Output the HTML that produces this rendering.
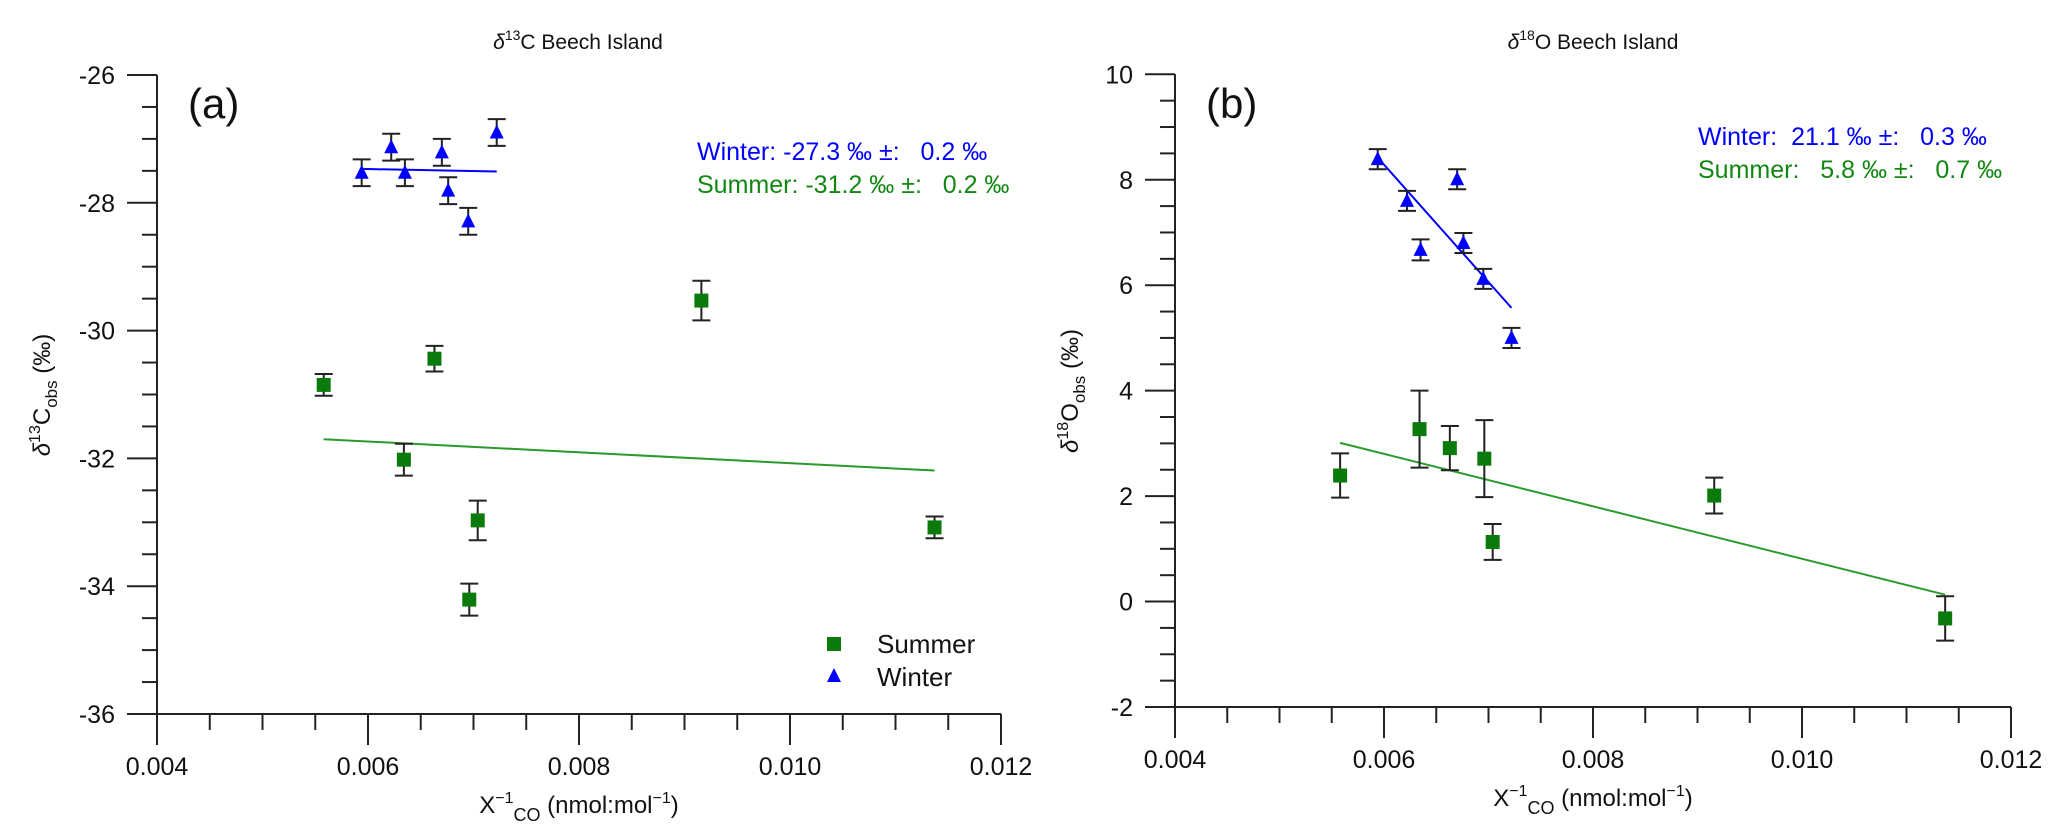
<!DOCTYPE html>
<html><head><meta charset="utf-8"><style>
html,body{margin:0;padding:0;background:#fff;}
svg{display:block;font-family:"Liberation Sans",Arial,sans-serif;}
</style></head><body>
<svg id="fig" width="2067" height="838" viewBox="0 0 2067 838" xmlns="http://www.w3.org/2000/svg">
<g id="pa"></g>
<g id="pb"></g>
</svg>
<script>
const winterX = [0.00594, 0.00622, 0.00635, 0.00670, 0.00676, 0.00695, 0.00722];
const winterC = [-27.53, -27.13, -27.53, -27.21, -27.81, -28.29, -26.90];
const winterCErr = [0.21, 0.21, 0.21, 0.21, 0.21, 0.21, 0.21];
const winterO = [8.39, 7.60, 6.67, 8.01, 6.80, 6.12, 5.00];
const winterOErr = [0.19, 0.19, 0.20, 0.19, 0.19, 0.19, 0.19];
const summerX = [0.00558, 0.00634, 0.00663, 0.00696, 0.00704, 0.00916, 0.01137];
const summerC = [-30.85, -32.02, -30.44, -34.21, -32.97, -29.53, -33.08];
const summerCErr = [0.17, 0.25, 0.20, 0.25, 0.31, 0.31, 0.17];
const summerO = [2.39, 3.27, 2.91, 2.71, 1.13, 2.01, -0.32];
const summerOErr = [0.42, 0.73, 0.42, 0.73, 0.34, 0.34, 0.42];
const fitWinterC = [-27.47, -27.51];
const fitSummerC = [-31.70, -32.19];
const fitWinterO = [8.42, 5.57];
const fitSummerO = [3.01, 0.13];
const xTicks = [0.004, 0.006, 0.008, 0.010, 0.012];
const xTickLabels = ["0.004", "0.006", "0.008", "0.010", "0.012"];
const yTicksC = [-26, -28, -30, -32, -34, -36];
const yTicksO = [10, 8, 6, 4, 2, 0, -2];

const NS = "http://www.w3.org/2000/svg";
function mk(parent, tag, attrs, text){
  const e = document.createElementNS(NS, tag);
  for (const k in attrs) e.setAttribute(k, attrs[k]);
  if (text !== undefined) e.textContent = text;
  parent.appendChild(e);
  return e;
}

function panel(g, cfg){
  const sx = v => cfg.x0 + (v - 0.004) / 0.008 * (cfg.x1 - cfg.x0);
  const sy = v => cfg.yTop + (cfg.yMax - v) / (cfg.yMax - cfg.yMin) * (cfg.yBot - cfg.yTop);
  // axes
  let a = mk(g, "line", {x1: cfg.x0, y1: cfg.yTop, x2: cfg.x0, y2: cfg.yBot, stroke: "#222", "stroke-width": 2});
  
  
  a = mk(g, "line", {x1: cfg.x0, y1: cfg.yBot, x2: cfg.x1, y2: cfg.yBot, stroke: "#222", "stroke-width": 2});
  
  
  // y ticks
  const step = cfg.yStep / 4;
  for (let v = cfg.yMin; v <= cfg.yMax + 1e-9; v += step) {
    const major = Math.abs(Math.round((v - cfg.yMin) / cfg.yStep) * cfg.yStep - (v - cfg.yMin)) < 1e-6;
    const t = mk(g, "line", {x1: cfg.x0 - (major ? 30 : 15), y1: sy(v), x2: cfg.x0, y2: sy(v), stroke: "#222", "stroke-width": 2});
    
    
  }
  cfg.yTicks.forEach(v => {
    const t = mk(g, "text", {x: cfg.x0 - 42, y: sy(v) + 9, "text-anchor": "end", "font-size": 25, fill: "#111"}, String(v));
    
    
  });
  // x ticks
  for (let i = 0; i <= 16; i++) {
    const v = 0.004 + i * 0.0005;
    const major = i % 4 === 0;
    const t = mk(g, "line", {x1: sx(v), y1: cfg.yBot, x2: sx(v), y2: cfg.yBot + (major ? 31 : 16), stroke: "#222", "stroke-width": 2});
    
    
  }
  xTicks.forEach((v, i) => {
    const t = mk(g, "text", {x: sx(v), y: cfg.yBot + 61, "text-anchor": "middle", "font-size": 25, fill: "#111"}, xTickLabels[i]);
    
    
  });
  // x title
  const xt = mk(g, "text", {x: (cfg.x0 + cfg.x1) / 2, y: cfg.yBot + 99, "text-anchor": "middle", "font-size": 24, fill: "#111"});
  
  
  xt.innerHTML = 'X<tspan dy="-10" font-size="16">\u22121</tspan><tspan dy="18" font-size="18">CO</tspan><tspan dy="-8"> (nmol:mol</tspan><tspan dy="-10" font-size="16">\u22121</tspan><tspan dy="10">)</tspan>';
  // y title
  const yt = mk(g, "text", {x: 0, y: 0, "text-anchor": "middle", "font-size": 24, fill: "#111", transform: `translate(${cfg.yLabelX},${cfg.yLabelY}) rotate(-90)`});
  
  
  yt.innerHTML = '<tspan font-style="italic">\u03B4</tspan><tspan dy="-10" font-size="16">' + cfg.iso + '</tspan><tspan dy="10">' + cfg.el + '</tspan><tspan dy="7" font-size="17">obs</tspan><tspan dy="-7"> (\u2030)</tspan>';
  // chart title
  const tt = mk(g, "text", {x: cfg.titleX, y: 49, "text-anchor": "middle", "font-size": 21, fill: "#111"});
  
  
  tt.innerHTML = '<tspan font-style="italic">\u03B4</tspan><tspan dy="-9" font-size="14">' + cfg.iso + '</tspan><tspan dy="9">' + cfg.el + ' Beech Island</tspan>';
  // panel letter
  const pl = mk(g, "text", {x: cfg.x0 + 31, y: 118, "font-size": 42, fill: "#111"}, cfg.letter);
  
  
  // fit lines
  let fl = mk(g, "line", {x1: sx(winterX[0]), y1: sy(cfg.fitW[0]), x2: sx(winterX[winterX.length-1]), y2: sy(cfg.fitW[1]), stroke: "#0000ff", "stroke-width": 2});
  
  
  fl = mk(g, "line", {x1: sx(summerX[0]), y1: sy(cfg.fitS[0]), x2: sx(summerX[summerX.length-1]), y2: sy(cfg.fitS[1]), stroke: "#2a9a2a", "stroke-width": 2});
  
  
  // error bars + points
  function errbar(x, y, e){
    const px = sx(x), top = sy(y + e), bot = sy(y - e);
    const eg = mk(g, "path", {d: `M${px},${top}V${bot}M${px-9},${top}H${px+9}M${px-9},${bot}H${px+9}`, stroke: "#222", "stroke-width": 2, fill: "none"});
    
    
  }
  summerX.forEach((x, i) => {
    errbar(x, cfg.sY[i], cfg.sE[i]);
    const r = mk(g, "rect", {x: sx(x) - 7, y: sy(cfg.sY[i]) - 7, width: 14, height: 14, fill: "#0a7a0a"});
    
    
  });
  winterX.forEach((x, i) => {
    errbar(x, cfg.wY[i], cfg.wE[i]);
    const px = sx(x), py = sy(cfg.wY[i]);
    const p = mk(g, "polygon", {points: `${px},${py-8} ${px+7},${py+6} ${px-7},${py+6}`, fill: "#0000ff"});
    
    
  });
  // annotation
  const w = mk(g, "text", {x: cfg.annX, y: cfg.annY, "font-size": 25, fill: "#0000ff", "xml:space": "preserve"}, cfg.annW);
  
  
  w.setAttribute('style', 'white-space:pre');
  const s = mk(g, "text", {x: cfg.annX, y: cfg.annY + 33, "font-size": 25, fill: "#118811"}, cfg.annS);
  
  
  s.setAttribute('style', 'white-space:pre');
}

panel(document.getElementById("pa"), {
  x0: 157, x1: 1001, yTop: 75, yBot: 714, yMin: -36, yMax: -26, yStep: 2, yTicks: yTicksC,
  yLabelX: 50, yLabelY: 395, iso: "13", el: "C", titleX: 578, letter: "(a)",
  fitW: fitWinterC, fitS: fitSummerC, sY: summerC, sE: summerCErr, wY: winterC, wE: winterCErr,
  annX: 697, annY: 160, annW: "Winter: -27.3 \u2030 \u00B1:   0.2 \u2030", annS: "Summer: -31.2 \u2030 \u00B1:   0.2 \u2030"
});
panel(document.getElementById("pb"), {
  x0: 1175, x1: 2011, yTop: 74.3, yBot: 707, yMin: -2, yMax: 10, yStep: 2, yTicks: yTicksO,
  yLabelX: 1078, yLabelY: 391, iso: "18", el: "O", titleX: 1593, letter: "(b)",
  fitW: fitWinterO, fitS: fitSummerO, sY: summerO, sE: summerOErr, wY: winterO, wE: winterOErr,
  annX: 1698, annY: 145, annW: "Winter:  21.1 \u2030 \u00B1:   0.3 \u2030", annS: "Summer:   5.8 \u2030 \u00B1:   0.7 \u2030"
});

// legend (panel a)
const pa = document.getElementById("pa");
const lg = mk(pa, "g", {});


let le = mk(lg, "rect", {x: 827, y: 637, width: 14, height: 14, fill: "#0a7a0a"});


le = mk(lg, "text", {x: 877, y: 653, "font-size": 26, fill: "#111"}, "Summer");


le = mk(lg, "polygon", {points: "834,668 841,682 827,682", fill: "#0000ff"});


le = mk(lg, "text", {x: 877, y: 686, "font-size": 26, fill: "#111"}, "Winter");


</script>
</body></html>
